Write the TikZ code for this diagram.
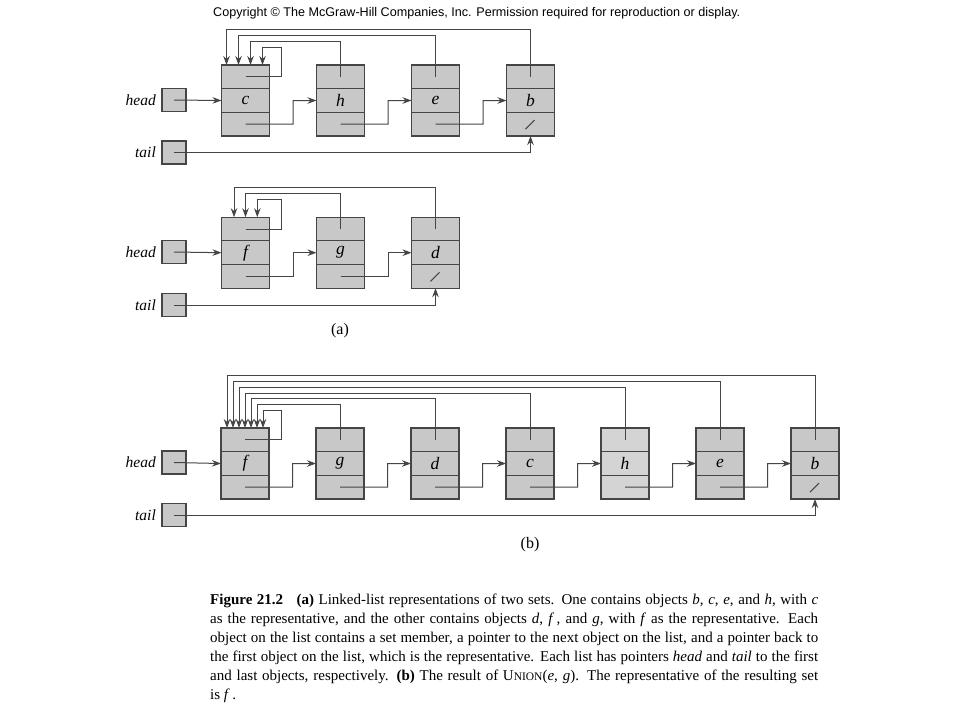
\documentclass[tikz,border=0pt]{standalone}
\usepackage{fontspec}
\setmainfont{Liberation Serif}
\newfontfamily\arialfont{Liberation Sans}
\usetikzlibrary{arrows.meta,calc}
\definecolor{boxfill}{HTML}{C8C8C8}
\definecolor{lightfill}{HTML}{D4D4D4}
\definecolor{ln}{HTML}{454545}
\tikzset{
  cell/.style={draw=ln, line width=1.2pt, fill=boxfill, minimum width=48pt, minimum height=23.67pt, inner sep=0pt, outer sep=0pt, font=\fontsize{17.5}{17.5}\selectfont\itshape},
  ptrbox/.style={draw=ln, line width=1.1pt, fill=boxfill, minimum width=24pt, minimum height=23pt, inner sep=0pt, outer sep=0pt},
  ptr/.style={draw=ln, line width=1pt, -{Stealth[length=9pt,width=6.5pt]}},
  plainline/.style={draw=ln, line width=1.1pt},
  lbl/.style={anchor=east, font=\fontsize{15.5}{16}\selectfont\itshape, inner sep=0pt},
  partlbl/.style={font=\fontsize{16}{16}\selectfont, inner sep=0pt},
  capline/.style={anchor=base west, inner sep=0pt, font=\fontsize{15}{19}\selectfont},
}
% record: [fill] name, x, y, letter
\newcommand\myrec[5][boxfill]{%
  \node[cell, fill=#1] (#2-t) at (#3,#4-23.67) {};
  \node[cell, fill=#1] (#2-m) at (#3,#4) {#5};
  \node[cell, fill=#1] (#2-b) at (#3,#4+23.67) {};
}
% next pointer
\newcommand\mynext[2]{%
  \draw[ptr] (#1-b.center) -- ($(#1-b.east)!0.5!(#2-b.west)$) |- (#2-m.west);
}
% back pointer: from, first, x offset, level
\newcommand\myback[4]{%
  \draw[ptr] (#1-t.center) |- ($(#2-t.north west)+(#3,-#4)$) -- ($(#2-t.north west)+(#3,0)$);
}
% self pointer: first, x offset, level
\newcommand\myself[3]{%
  \draw[ptr] (#1-t.center) -- ($(#1-t.east)+(12.2,0)$) |- ($(#1-t.north west)+(#2,-#3)$) -- ($(#1-t.north west)+(#2,0)$);
}
\newcommand\mynil[1]{%
  \draw[plainline] ($(#1-b.center)+(-5,5)$) -- ($(#1-b.center)+(4,-4)$);
}
\begin{document}
\begin{tikzpicture}[x=1pt,y=-1pt]
\fill[white] (0,0) rectangle (960,720);
\useasboundingbox (0,0) rectangle (960,720);

\node[anchor=base west, inner sep=0pt, font=\arialfont\fontsize{12.6}{14}\selectfont] (copy) at (213,16.5)
  {Copyright © The McGraw-Hill Companies, Inc. Permission required for reproduction or display.};

% ---------- (a) first list
\myrec{c1}{245.5}{100.5}{c}
\myrec{h1}{340.5}{100.5}{h}
\myrec{e1}{435.5}{100.5}{e}
\myrec{b1}{530.5}{100.5}{b}
\node[ptrbox] (hd1) at (174,100) {};
\node[ptrbox] (tl1) at (174,152.5) {};
\node[lbl] (hl1) at (156,100) {head};
\node[lbl] (tlab1) at (156,152.5) {tail};
\draw[ptr] (hd1.center) -- (c1-m.west);
\mynext{c1}{h1}\mynext{h1}{e1}\mynext{e1}{b1}
\myback{b1}{c1}{5}{35}
\myback{e1}{c1}{17}{29}
\myback{h1}{c1}{29}{23}
\myself{c1}{41}{17.5}
\mynil{b1}
\draw[ptr] (tl1.center) -| (b1-b.south);

% ---------- (a) second list
\myrec{f2}{245.5}{252.7}{f}
\myrec{g2}{340.5}{252.7}{g}
\myrec{d2}{435.5}{252.7}{d}
\node[ptrbox] (hd2) at (174,252) {};
\node[ptrbox] (tl2) at (174,305) {};
\node[lbl] (hl2) at (156,252) {head};
\node[lbl] (tlab2) at (156,305) {tail};
\draw[ptr] (hd2.center) -- (f2-m.west);
\mynext{f2}{g2}\mynext{g2}{d2}
\myback{d2}{f2}{12.5}{29.4}
\myback{g2}{f2}{24}{23.4}
\myself{f2}{35.8}{17.7}
\mynil{d2}
\draw[ptr] (tl2.center) -| (d2-b.south);
\node[partlbl] (pa) at (340,331) {(a)};

% ---------- (b)
\myrec{f3}{245}{463.5}{f}
\myrec{g3}{340}{463.5}{g}
\myrec{d3}{435}{463.5}{d}
\myrec{c3}{530}{463.5}{c}
\myrec[lightfill]{h3}{625}{463.5}{h}
\myrec{e3}{720}{463.5}{e}
\myrec{b3}{815}{463.5}{b}
\node[ptrbox] (hd3) at (174,462.5) {};
\node[ptrbox] (tl3) at (174,515) {};
\node[lbl] (hl3) at (156,462.5) {head};
\node[lbl] (tlab3) at (156,515) {tail};
\draw[ptr] (hd3.center) -- (f3-m.west);
\mynext{f3}{g3}\mynext{g3}{d3}\mynext{d3}{c3}\mynext{c3}{h3}\mynext{h3}{e3}\mynext{e3}{b3}
\myback{b3}{f3}{6}{52.5}
\myback{e3}{f3}{12}{46.7}
\myback{h3}{f3}{18}{40.8}
\myback{c3}{f3}{24}{35}
\myback{d3}{f3}{30}{29.2}
\myback{g3}{f3}{36}{23.4}
\myself{f3}{42}{17.5}
\mynil{b3}
\draw[ptr] (tl3.center) -| (b3-b.south);
\node[partlbl] (pb) at (530,545) {(b)};

% ---------- caption
\node[capline] (cap1) at (210,604.3) {\makebox[608pt][s]{\textbf{Figure 21.2}\hspace{0.9em}\textbf{(a)} Linked-list representations of two sets. One contains objects \textit{b}, \textit{c}, \textit{e}, and \textit{h}, with \textit{c}}};
\node[capline] (cap2) at (210,623.4) {\makebox[608pt][s]{as the representative, and the other contains objects \textit{d}, \textit{f}\,, and \textit{g}, with \textit{f} as the representative. Each}};
\node[capline] (cap3) at (210,642.5) {\makebox[608pt][s]{object on the list contains a set member, a pointer to the next object on the list, and a pointer back to}};
\node[capline] (cap4) at (210,661.6) {\makebox[608pt][s]{the first object on the list, which is the representative. Each list has pointers \textit{head} and \textit{tail} to the first}};
\node[capline] (cap5) at (210,680.7) {\makebox[608pt][s]{and last objects, respectively. \textbf{(b)} The result of U{\fontsize{11.5}{19}\selectfont NION}(\textit{e}, \textit{g}). The representative of the resulting set}};
\node[capline] (cap6) at (210,699.8) {is \textit{f}\,.};
\end{tikzpicture}
\end{document}
